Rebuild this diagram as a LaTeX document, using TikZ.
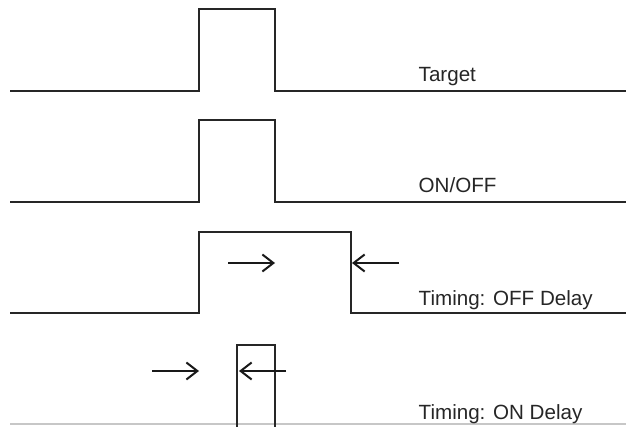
\documentclass[tikz,border=0pt]{standalone}
\usepackage{fontspec}
\setmainfont{Liberation Sans}
\usetikzlibrary{arrows.meta}
\begin{document}
\begin{tikzpicture}[x=1pt,y=-1pt,line width=1.4pt,
	signal/.style={draw=black!85, line join=miter},
	delay/.style={draw=black!90, -{Straight Barb[length=11pt,width=17pt,line width=2pt]}},
	sig label/.style={anchor=base west, inner sep=0pt, text=black!85,
		font=\fontsize{20.6}{24}\selectfont}]
\useasboundingbox (0,0) rectangle (628,427);

% Target
	\draw[signal] (10,91) -- (199,91) -- (199,9) -- (275,9) -- (275,91) -- (626,91);
	\node[sig label] (target) at (418,82) {Target};

% ON/OFF
	\draw[signal] (10,202) -- (199,202) -- (199,120) -- (275,120) -- (275,202) -- (626,202);
	\node[sig label] (onoff) at (418,193) {ON/OFF};

% Timing: OFF Delay
	\draw[signal] (10,313) -- (199,313) -- (199,232) -- (351,232) -- (351,313) -- (626,313);
	\node[sig label] (offdelay) at (418,305) {Timing: OFF Delay};

	\coordinate (off a) at (228,263);
	\coordinate (off b) at (275,263);
	\coordinate (off c) at (399,263);
	\coordinate (off d) at (352,263);
	\draw[delay] (off a) -- (off b);
	\draw[delay] (off c) -- (off d);

% Timing: ON Delay
	\draw[draw=black!22] (10,424) -- (626,424);
	\draw[signal] (237,427) -- (237,345) -- (275,345) -- (275,427);
	\node[sig label] (ondelay) at (418,419) {Timing: ON Delay};

	\coordinate (on a) at (152,371);
	\coordinate (on b) at (199,371);
	\coordinate (on c) at (286,371);
	\coordinate (on d) at (239,371);
	\draw[delay] (on a) -- (on b);
	\draw[delay] (on c) -- (on d);
\end{tikzpicture}
\end{document}
